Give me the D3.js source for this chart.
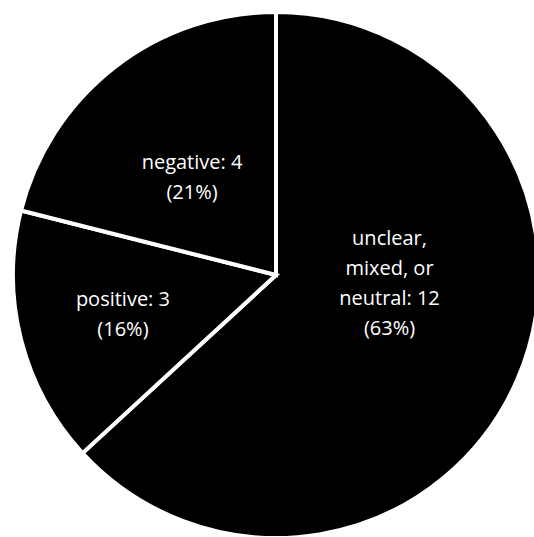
<!DOCTYPE html>
<html>
<head>
<meta charset="utf-8">
<script src="https://cdn.jsdelivr.net/npm/d3@7"></script>
<style>
  html, body { margin: 0; padding: 0; background: #fff; }
  svg { display: block; }
  text { font-family: "Open Sans", Lato, sans-serif; fill: #fff; }
</style>
</head>
<body>
<svg id="chart" width="534" height="537"></svg>
<script>
const categories = ["unclear, mixed, or neutral", "positive", "negative"];
const values = [12, 3, 4];
const labelLines = [
  ["unclear,", "mixed, or", "neutral: 12", "(63%)"],
  ["positive: 3", "(16%)"],
  ["negative: 4", "(21%)"]
];

const svg = d3.select("#chart");
const cx = 276, cy = 275, R = 263;
const g = svg.append("g").attr("transform", `translate(${cx},${cy})`);

const data = categories.map((c, i) => ({ cat: c, value: values[i], lines: labelLines[i] }));
const pie = d3.pie().value(d => d.value).sort(null);
const arcs = pie(data);
const arc = d3.arc().innerRadius(0).outerRadius(R);

g.selectAll("path.slice")
  .data(arcs)
  .join("path")
  .attr("class", "slice")
  .attr("d", arc)
  .attr("fill", "#000")
  .attr("stroke", "#fff")
  .attr("stroke-width", 4)
  .attr("stroke-linejoin", "miter");

// label placement: radius and angle offset per slice (layout only)
const labelLayout = [
  { r: 114, da: -18.5, dy: -47 },
  { r: 159, da: -1.5, dy: -19 },
  { r: 127, da: -3.5, dy: -18 }
];
const lineH = 30;
g.selectAll("text.lbl")
  .data(arcs)
  .join("text")
  .attr("class", "lbl")
  .attr("text-anchor", "middle")
  .attr("font-size", 20)
  .attr("font-weight", 400)
  .each(function(d, i) {
    const L = labelLayout[i];
    const a = (d.startAngle + d.endAngle) / 2 + L.da * Math.PI / 180;
    const x = L.r * Math.sin(a), y = -L.r * Math.cos(a);
    const t = d3.select(this);
    d.data.lines.forEach((ln, k) => {
      t.append("tspan")
        .attr("x", x)
        .attr("y", y + L.dy + 7 + k * lineH)
        .text(ln);
    });
  });
</script>
</body>
</html>
